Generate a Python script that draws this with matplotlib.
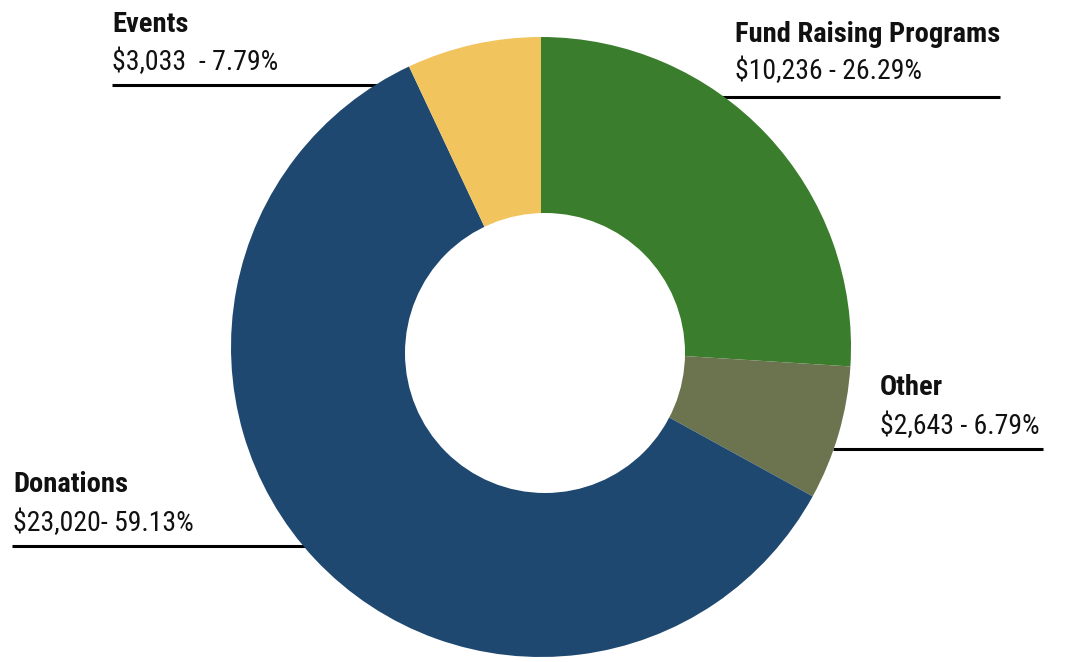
import matplotlib.pyplot as plt
from matplotlib import font_manager
from matplotlib.patches import Circle

# data
categories = ["Fund Raising Programs", "Other", "Donations", "Events"]
amounts = [10236, 2643, 23020, 3033]
value_labels = ["$10,236 - 26.29%", "$2,643 - 6.79%", "$23,020- 59.13%", "$3,033  - 7.79%"]
# shares as actually drawn in the source picture (percent of the ring)
drawn_shares = [26.0, 7.0, 60.0, 7.0]
colors = ["#3a7d2c", "#6b744e", "#1f4870", "#f2c45e"]

names = {f.name for f in font_manager.fontManager.ttflist}
fam = "Roboto"
for cand in ["Roboto Condensed", "Liberation Sans Narrow", "Roboto"]:
    if cand in names:
        fam = cand
        break
plt.rcParams["font.family"] = [fam, "DejaVu Sans"]

W, H = 1065, 662
fig = plt.figure(figsize=(W / 100, H / 100), dpi=100)
ax = fig.add_axes([0, 0, 1, 1])

def py(y):
    # convert pixel row to data y
    return H - y

cx, cy, r = 541, py(347), 310
ax.pie(drawn_shares, colors=colors, startangle=90, counterclock=False,
       center=(cx, cy), radius=r, frame=True,
       wedgeprops=dict(linewidth=0, zorder=3))
# hole (slightly off-centre in the source)
ax.add_patch(Circle((545, py(353)), 140, facecolor="white", edgecolor="none", zorder=4))
ax.set_xlim(0, W)
ax.set_ylim(0, H)
ax.axis("off")

# label layout: (text x, title baseline, value baseline, line x0, line x1, line y)
layout = {
    "Fund Raising Programs": (735, 42, 79, 722, 1000, 97),
    "Other": (880, 395, 434, 833, 1043, 449),
    "Donations": (13, 492, 531, 12, 320, 546),
    "Events": (112, 32, 70, 112, 400, 85),
}
for name, val in zip(categories, value_labels):
    tx, ty, vy, x0, x1, ly = layout[name]
    ax.text(tx, py(ty), name, fontsize=20.5, fontweight="bold", va="baseline", ha="left", color="#111111")
    ax.text(tx, py(vy), val, fontsize=20, va="baseline", ha="left", color="#111111")
    ax.plot([x0, x1], [py(ly), py(ly)], color="black", lw=2.2, zorder=1, solid_capstyle="butt")

fig.savefig("out.png", dpi=100)
